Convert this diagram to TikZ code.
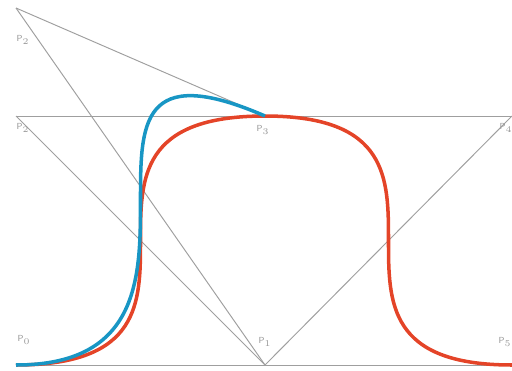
\documentclass[tikz,border=0pt]{standalone}
\usepackage{tikz}
\begin{document}
\begin{tikzpicture}[
    x=0.02cm, y=-0.02cm,
    font=\fontsize{5}{6}\selectfont\sffamily,
    guide/.style={draw=gray!75, line width=0.55pt},
    redcurve/.style={draw={rgb,255:red,228;green,68;blue,40}, line width=2pt},
    bluecurve/.style={draw={rgb,255:red,24;green,150;blue,196}, line width=2pt},
    ptlabel/.style={text=gray!80, inner sep=0pt}
]
    \useasboundingbox (0,0) rectangle (512,370);

    % Puntos de control
    \coordinate (Q2) at (16,8);
    \coordinate (P2) at (16,116);
    \coordinate (P3) at (265,116);
    \coordinate (P4) at (512,116);
    \coordinate (P0) at (16,365);
    \coordinate (P1) at (265,365);
    \coordinate (P5) at (512,365);

    % Lineas guia
    \draw[guide] (P2) -- (P4);
    \draw[guide] (P0) -- (P5);
    \draw[guide] (Q2) -- (P3);
    \draw[guide] (Q2) -- (P1);
    \draw[guide] (P2) -- (P1);
    \draw[guide] (P4) -- (P1);

    % Curvas
    \draw[redcurve] (P0) .. controls (P1) and (P2) .. (P3)
                         .. controls (P4) and (P1) .. (P5);
    \draw[bluecurve] (P0) .. controls (P1) and (Q2) .. (P3);

    % Etiquetas
    \node[ptlabel] (lq2) at (23,40) {P$_2$};
    \node[ptlabel] (lp2) at (23,128) {P$_2$};
    \node[ptlabel] (lp3) at (263,130) {P$_3$};
    \node[ptlabel] (lp4) at (506,128) {P$_4$};
    \node[ptlabel] (lp0) at (24,340) {P$_0$};
    \node[ptlabel] (lp1) at (265,342) {P$_1$};
    \node[ptlabel] (lp5) at (505,342) {P$_5$};
\end{tikzpicture}
\end{document}
